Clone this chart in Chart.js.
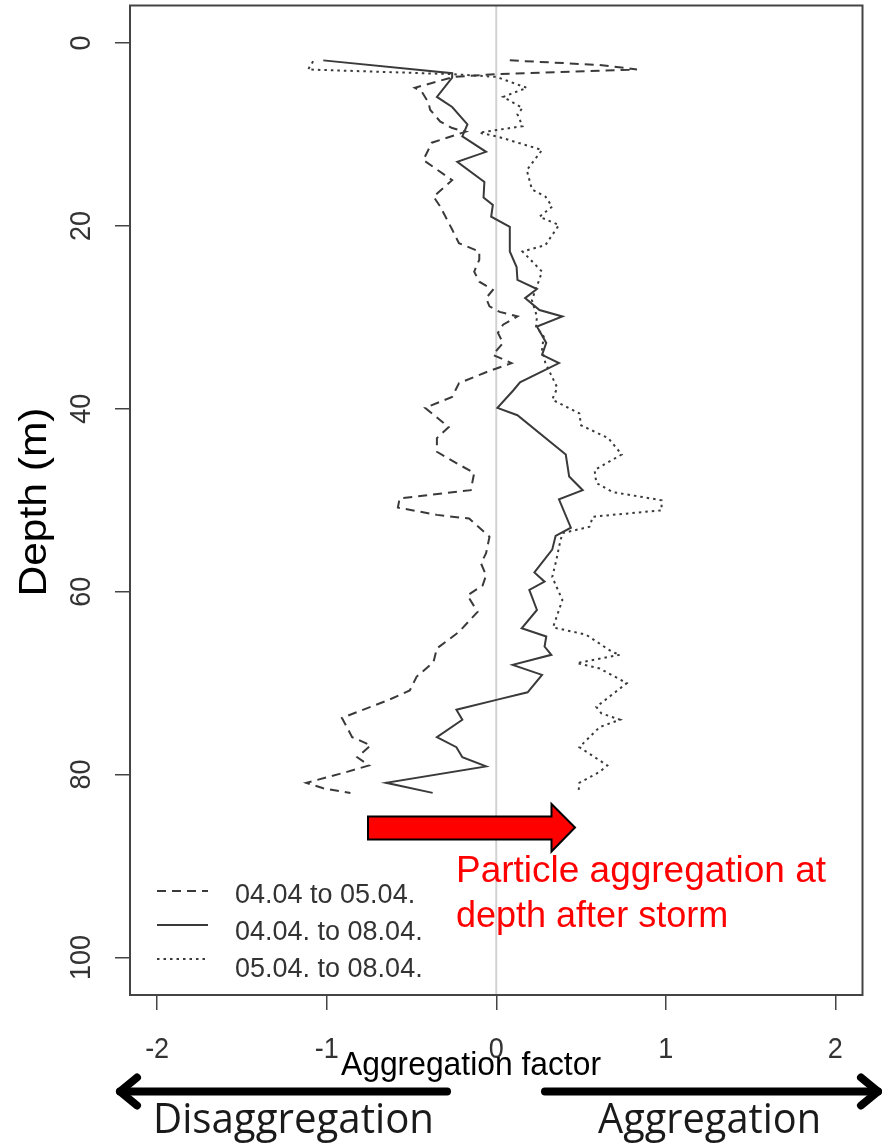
<!DOCTYPE html>
<html>
<head>
<meta charset="utf-8">
<script src="https://cdn.jsdelivr.net/npm/chart.js@4.4.1/dist/chart.umd.min.js"></script>
<style>
  html, body { margin: 0; padding: 0; background: #fff; }
  canvas { display: block; }
</style>
</head>
<body>
<canvas id="depthChart" width="882" height="1144"></canvas>
<script>
// depth (m) and aggregation factor
const dashedDepth  = [1.9, 2.4, 2.9, 3.4, 3.7, 4.9, 5.3, 6.5, 7.3, 8.6, 9.3, 9.7, 10.9, 12.8, 15, 16.8, 17.9, 20.4, 21.9, 22.8, 23.7, 25, 26.1, 27, 27.9, 28.8, 29.4, 29.9, 30.8, 31.7, 32.8, 34.1, 35, 36, 37.2, 38.7, 39.9, 42, 43.2, 44.7, 46.1, 47, 48.9, 49.8, 50.8, 51.6, 52, 54, 55.8, 56.9, 58.2, 59.3, 60.4, 62.2, 64.4, 66.2, 67.7, 69.3, 70.8, 71.8, 73.8, 75.9, 76.8, 78.1, 79, 79.7, 80.9, 81.5, 82];
const dashedFactor = [0.08, 0.61, 0.83, 0.0, -0.25, -0.48, -0.44, -0.40, -0.39, -0.33, -0.26, -0.18, -0.38, -0.43, -0.26, -0.37, -0.33, -0.26, -0.22, -0.1, -0.1, -0.13, -0.1, -0.02, -0.06, -0.04, 0.02, 0.125, 0.04, 0.01, 0.04, -0.02, 0.09, -0.06, -0.22, -0.26, -0.42, -0.28, -0.35, -0.35, -0.22, -0.13, -0.15, -0.57, -0.58, -0.35, -0.16, -0.04, -0.06, -0.09, -0.06, -0.08, -0.17, -0.11, -0.22, -0.35, -0.37, -0.47, -0.51, -0.63, -0.91, -0.85, -0.74, -0.82, -0.75, -0.88, -1.12, -1.02, -0.86];

const solidDepth  = [1.9, 3.3, 3.8, 5.9, 7, 8.9, 10.2, 11.9, 13, 15.2, 16.9, 17.7, 19, 20.1, 22.8, 24.5, 25.9, 26.9, 27.9, 29.2, 29.9, 31, 32.8, 34.1, 35, 37.1, 38, 39.9, 40.7, 45, 47.4, 48.9, 49.9, 53, 53.9, 55.4, 57.9, 58.9, 59.8, 62, 64, 64.9, 66, 66.9, 68, 69.1, 71, 71.8, 72.9, 74, 75.9, 77, 78.1, 79.1, 80.9, 82];
const solidFactor = [-1.02, -0.26, -0.26, -0.35, -0.26, -0.17, -0.2, -0.06, -0.23, -0.07, -0.075, -0.02, -0.03, 0.08, 0.08, 0.12, 0.125, 0.24, 0.17, 0.255, 0.39, 0.24, 0.295, 0.27, 0.37, 0.14, 0.1, 0.007, 0.125, 0.41, 0.43, 0.51, 0.37, 0.44, 0.35, 0.33, 0.225, 0.285, 0.195, 0.24, 0.15, 0.295, 0.285, 0.325, 0.097, 0.27, 0.185, 0.007, -0.235, -0.2, -0.35, -0.235, -0.2, -0.06, -0.65, -0.375];

const dottedDepth  = [2.0, 2.9, 3.4, 3.7, 4.9, 5.9, 7.1, 7.8, 9.1, 9.8, 10.3, 11.7, 13.9, 16, 16.8, 17.9, 19, 19.9, 22.1, 22.8, 25, 26.6, 28.1, 29.9, 31, 32.1, 33.5, 35, 37.7, 39, 40.5, 41.8, 43.2, 45, 46.7, 48.1, 49.1, 50, 51.1, 51.8, 52.9, 53.6, 55.1, 56.5, 58.4, 60.9, 63.9, 64.7, 66.6, 66.9, 67.8, 68.4, 70, 72.6, 73.3, 74, 74.8, 77, 79, 79.7, 80.9, 82];
const dottedFactor = [-1.08, -1.11, -0.27, 0.0, 0.18, 0.04, 0.155, 0.125, 0.155, -0.1, 0.02, 0.27, 0.18, 0.21, 0.29, 0.33, 0.255, 0.37, 0.29, 0.155, 0.27, 0.24, 0.21, 0.24, 0.235, 0.28, 0.27, 0.29, 0.36, 0.33, 0.49, 0.5, 0.66, 0.74, 0.58, 0.59, 0.685, 0.975, 0.975, 0.57, 0.55, 0.39, 0.37, 0.355, 0.33, 0.39, 0.335, 0.53, 0.685, 0.73, 0.475, 0.61, 0.77, 0.59, 0.62, 0.73, 0.61, 0.49, 0.655, 0.61, 0.49, 0.485];

const seriesLabels = ['04.04 to 05.04.', '04.04. to 08.04.', '05.04. to 08.04.'];
const depthTicks = [0, 20, 40, 60, 80, 100];
const factorTicks = [-2, -1, 0, 1, 2];

const pts = (d, f) => d.map((v, i) => ({ x: f[i], y: v }));

const lineGrey = '#3a3a3a';
const dashes = [[9, 6], [], [2.5, 4]];

// draws a text, optionally stretched to a target width
function txt(ctx, s, x, y, o) {
  ctx.save();
  ctx.font = (o.weight || '') + ' ' + o.size + 'px ' + (o.family || '"Liberation Sans", Arial, sans-serif');
  ctx.fillStyle = o.color || '#333';
  ctx.textAlign = o.align || 'center';
  ctx.textBaseline = 'alphabetic';
  ctx.translate(x, y);
  if (o.rot) ctx.rotate(o.rot);
  let sx = o.sx || 1;
  if (o.w) sx = o.w / ctx.measureText(s).width;
  ctx.scale(sx, o.sy || 1);
  ctx.fillText(s, 0, 0);
  ctx.restore();
}

function bigArrow(ctx, x0, x1, yc, dir) {
  // black axis arrow, shaft from x0 to x1, head at x1
  ctx.save();
  ctx.strokeStyle = '#000';
  ctx.lineWidth = 8;
  ctx.lineCap = 'round';
  ctx.lineJoin = 'round';
  ctx.beginPath();
  ctx.moveTo(x0, yc);
  ctx.lineTo(x1, yc);
  ctx.stroke();
  ctx.beginPath();
  ctx.moveTo(x1 - dir * 17, yc - 14);
  ctx.lineTo(x1, yc);
  ctx.lineTo(x1 - dir * 17, yc + 14);
  ctx.stroke();
  ctx.restore();
}

const overlay = {
  id: 'overlay',
  beforeDatasetsDraw(chart) {
    const { ctx, chartArea: a, scales: { x } } = chart;
    const zx = x.getPixelForValue(0);
    ctx.save();
    ctx.strokeStyle = '#d2d2d2';
    ctx.lineWidth = 2;
    ctx.beginPath();
    ctx.moveTo(zx, a.top);
    ctx.lineTo(zx, a.bottom);
    ctx.stroke();
    ctx.restore();
  },
  afterDraw(chart) {
    const { ctx, chartArea: a, scales: { x, y } } = chart;

    // frame
    ctx.save();
    ctx.strokeStyle = '#444';
    ctx.lineWidth = 2;
    ctx.strokeRect(a.left, a.top, a.right - a.left, a.bottom - a.top);
    ctx.restore();

    // tick labels
    factorTicks.forEach(v => {
      txt(ctx, String(v), x.getPixelForValue(v), 1058, { size: 27, sy: 1.08 });
    });
    depthTicks.forEach(v => {
      txt(ctx, String(v), 90, y.getPixelForValue(v), { size: 27, rot: -Math.PI / 2, sy: 1.08 });
    });

    // axis titles
    txt(ctx, 'Depth (m)', 46, 502, { size: 38, color: '#000', rot: -Math.PI / 2, w: 189 });
    txt(ctx, 'Aggregation factor', 471, 1075, { size: 31, color: '#000', w: 260, sy: 1.05 });

    // legend
    const rows = [891, 925, 959];
    const base = [903, 940, 977];
    rows.forEach((ry, i) => {
      ctx.save();
      ctx.strokeStyle = lineGrey;
      ctx.lineWidth = 2;
      ctx.setLineDash(dashes[i]);
      ctx.beginPath();
      ctx.moveTo(157, ry);
      ctx.lineTo(208, ry);
      ctx.stroke();
      ctx.restore();
      txt(ctx, seriesLabels[i], 235, base[i], { size: 27, align: 'left', color: '#333', sy: 1.05 });
    });

    // red annotation arrow
    ctx.save();
    ctx.fillStyle = '#ff0000';
    ctx.strokeStyle = '#000';
    ctx.lineWidth = 2;
    ctx.beginPath();
    ctx.moveTo(368, 816.5);
    ctx.lineTo(551.5, 816.5);
    ctx.lineTo(551.5, 804);
    ctx.lineTo(575, 827.5);
    ctx.lineTo(551.5, 851.5);
    ctx.lineTo(551.5, 839.5);
    ctx.lineTo(368, 839.5);
    ctx.closePath();
    ctx.fill();
    ctx.stroke();
    ctx.restore();
    txt(ctx, 'Particle aggregation at', 456, 882, { size: 36, color: '#ff0000', align: 'left', w: 370 });
    txt(ctx, 'depth after storm', 456, 927, { size: 36, color: '#ff0000', align: 'left' });

    // direction arrows under the axis
    bigArrow(ctx, 447, 120, 1091.5, -1);
    bigArrow(ctx, 545, 878, 1091.5, 1);
    const sans = '"Open Sans", "Noto Sans", sans-serif';
    txt(ctx, 'Disaggregation', 293.5, 1133, { size: 36, color: '#1a1a1a', family: sans, w: 281, sy: 1.18 });
    txt(ctx, 'Aggregation', 709.5, 1133, { size: 36, color: '#1a1a1a', family: sans, w: 223, sy: 1.18 });
  }
};

const ctx = document.getElementById('depthChart').getContext('2d');
const depthChart = new Chart(ctx, {
  type: 'scatter',
  data: {
    datasets: [
      { label: seriesLabels[0], data: pts(dashedDepth, dashedFactor), borderDash: dashes[0] },
      { label: seriesLabels[1], data: pts(solidDepth, solidFactor), borderDash: dashes[1] },
      { label: seriesLabels[2], data: pts(dottedDepth, dottedFactor), borderDash: dashes[2] }
    ].map(ds => Object.assign(ds, {
      showLine: true,
      borderColor: lineGrey,
      borderWidth: 2,
      pointRadius: 0,
      tension: 0,
      fill: false
    }))
  },
  options: {
    responsive: false,
    animation: false,
    layout: { padding: { top: 5.5, right: 19.5, left: 0, bottom: 0 } },
    plugins: { legend: { display: false }, tooltip: { enabled: false } },
    scales: {
      x: {
        type: 'linear',
        min: -2.16,
        max: 2.16,
        afterFit(s) { s.height = 149; },
        ticks: { display: false, stepSize: 1, includeBounds: false },
        grid: { drawOnChartArea: false, drawTicks: true, tickLength: 15, color: '#444', lineWidth: 1.5 },
        border: { display: false }
      },
      y: {
        type: 'linear',
        reverse: true,
        min: -4.1,
        max: 104.1,
        afterFit(s) { s.width = 130; },
        ticks: { display: false, stepSize: 20, includeBounds: false },
        grid: { drawOnChartArea: false, drawTicks: true, tickLength: 15, color: '#444', lineWidth: 1.5 },
        border: { display: false }
      }
    }
  },
  plugins: [overlay]
});
</script>
</body>
</html>
